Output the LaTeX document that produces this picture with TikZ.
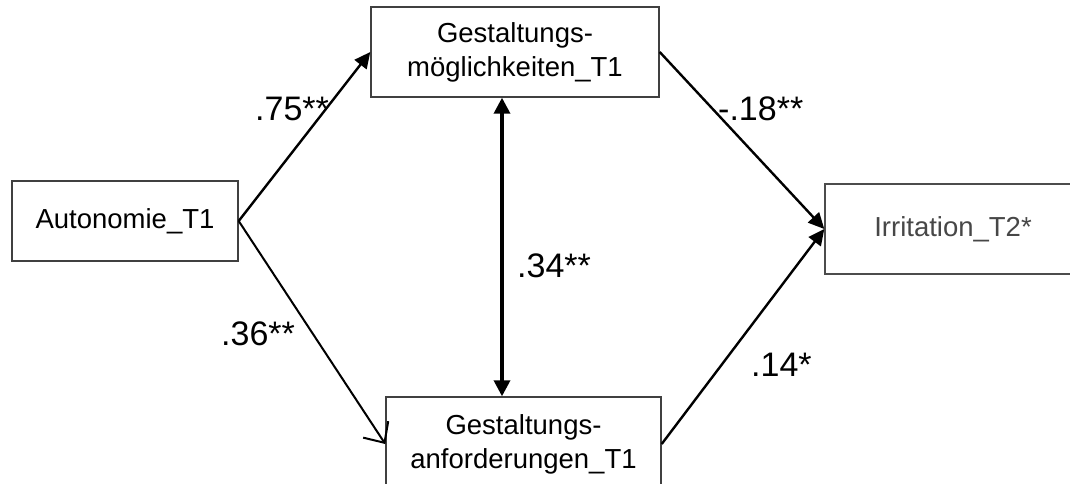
\documentclass[tikz,border=0pt]{standalone}
\usepackage{fontspec}
\setmainfont{Liberation Sans}
\usetikzlibrary{arrows.meta}
\begin{document}
\begin{tikzpicture}[x=1pt,y=-1pt,
  box/.style={draw=black!75, line width=1.4pt, inner sep=0pt, align=center,
    font=\fontsize{27.5}{34}\selectfont},
  path/.style={line width=2.4pt, -{Triangle[length=16pt,width=15pt]}},
  openpath/.style={line width=2pt, -{Straight Barb[length=16pt,width=30pt,line width=2pt]}},
  corr/.style={line width=3.4pt, {Triangle[length=16pt,width=16pt]}-{Triangle[length=16pt,width=16pt]}},
  lab/.style={anchor=base west, inner sep=0pt, font=\fontsize{34}{40}\selectfont}]
\clip (0,0) rectangle (1070,484);
\node[box, minimum width=226pt, minimum height=80pt] (auto) at (125,221) {Autonomie\_T1};
\node[box, minimum width=288pt, minimum height=90pt] (top) at (515,52) {Gestaltungs-\\möglichkeiten\_T1};
\node[box, minimum width=275pt, minimum height=94pt] (bot) at (523.5,444) {Gestaltungs-\\anforderungen\_T1};
\node[box, draw=black!70, text=black!72, minimum width=256pt, minimum height=90pt] (irr) at (953,229) {Irritation\_T2*};
\coordinate (vx) at (502,0);
\draw[path] (auto.east) -- (top.west);
\draw[openpath] (auto.east) -- (bot.west);
\draw[path] (top.east) -- (irr.west);
\draw[path] (bot.east) -- (irr.west);
\draw[corr] (top.south -| vx) -- (bot.north -| vx);
\node[lab] (l75) at (255,121) {.75**};
\node[lab] (l18) at (718,121) {-.18**};
\node[lab] (l34) at (517,277) {.34**};
\node[lab] (l36) at (221,345) {.36**};
\node[lab] (l14) at (751,376) {.14*};
\end{tikzpicture}
\end{document}
